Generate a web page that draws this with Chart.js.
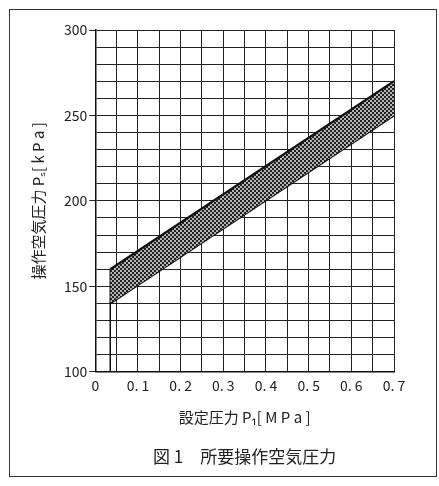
<!DOCTYPE html>
<html>
<head>
<meta charset="utf-8">
<script src="https://cdn.jsdelivr.net/npm/chart.js@4"></script>
<style>
  body { margin: 0; background: #fff; }
  #wrap { position: relative; width: 439px; height: 486px; }
  #frame { position: absolute; left: 9px; top: 9px; width: 426px; height: 466px; border: 1.5px solid #333; pointer-events: none; }
</style>
</head>
<body>
<div id="wrap">
  <canvas id="grafico" width="439" height="486"></canvas>
  <div id="frame"></div>
</div>
<script>
// 設定圧力 P1 [MPa] と 操作空気圧力 Ps [kPa]
const setPressure = [0.035, 0.7];
const psUpper = [160, 270];
const psLower = [140, 250];
const minSetX = [0.035, 0.035];
const minSetY = [160, 100];

const yTicks = [100, 150, 200, 250, 300];
const xTicks = [0, 0.1, 0.2, 0.3, 0.4, 0.5, 0.6, 0.7];
const xLabels = ['0', '0. 1', '0. 2', '0. 3', '0. 4', '0. 5', '0. 6', '0. 7'];

const fuente = "'Noto Sans CJK JP', 'Noto Sans', sans-serif";

// 網掛け（ドット）パターン
function crearTrama() {
  const c = document.createElement('canvas');
  c.width = 4; c.height = 4;
  const g = c.getContext('2d');
  g.fillStyle = '#b4b4b4';
  g.fillRect(0, 0, 4, 4);
  g.fillStyle = '#222';
  g.fillRect(0, 0, 2, 2);
  g.fillRect(2, 2, 2, 2);
  return g.createPattern(c, 'repeat');
}

function puntos(xs, ys) {
  return xs.map((x, i) => ({ x: x, y: ys[i] }));
}

function esMarcaY(v) {
  return yTicks.some(t => Math.abs(t - v) < 1e-6);
}

function etiquetaX(v) {
  const i = xTicks.findIndex(t => Math.abs(t - v) < 1e-6);
  return i >= 0 ? xLabels[i] : '';
}

const ctx = document.getElementById('grafico').getContext('2d');

new Chart(ctx, {
  type: 'scatter',
  data: {
    datasets: [
      {
        data: puntos(setPressure, psUpper),
        showLine: true,
        borderColor: '#111',
        borderWidth: 2.2,
        pointRadius: 0,
        backgroundColor: crearTrama(),
        fill: '+1'
      },
      {
        data: puntos(setPressure, psLower),
        showLine: true,
        borderColor: '#111',
        borderWidth: 2.2,
        pointRadius: 0,
        fill: false
      },
      {
        data: puntos(minSetX, minSetY),
        showLine: true,
        borderColor: '#111',
        borderWidth: 1.5,
        pointRadius: 0,
        fill: false
      }
    ]
  },
  options: {
    responsive: false,
    animation: false,
    layout: { padding: { left: 29, right: 45, top: 30, bottom: 19 } },
    plugins: {
      legend: { display: false },
      tooltip: { enabled: false },
      title: {
        display: true,
        position: 'bottom',
        fullSize: false,
        text: '図 1　所要操作空気圧力',
        color: '#222',
        font: { family: fuente, size: 17, weight: 'normal' },
        padding: { top: 20, bottom: 0 }
      }
    },
    scales: {
      x: {
        type: 'linear',
        min: 0,
        max: 0.7,
        border: { color: '#111', width: 1.5 },
        grid: { color: '#222', lineWidth: 1, drawTicks: false },
        ticks: {
          stepSize: 0.05,
          autoSkip: false,
          maxRotation: 0,
          padding: 5,
          color: '#222',
          font: { family: fuente, size: 14 },
          callback: v => etiquetaX(v)
        },
        title: {
          display: true,
          text: '設定圧力 P₁[ M P a ]',
          color: '#222',
          font: { family: fuente, size: 15 },
          padding: { top: 10, bottom: 0 }
        }
      },
      y: {
        min: 100,
        max: 300,
        border: { color: '#111', width: 1.5 },
        grid: {
          color: '#222',
          lineWidth: 1,
          tickLength: 6,
          tickColor: c => (c.tick && esMarcaY(c.tick.value)) ? '#222' : 'rgba(0,0,0,0)'
        },
        ticks: {
          stepSize: 10,
          autoSkip: false,
          padding: 2,
          color: '#222',
          font: { family: fuente, size: 14 },
          callback: v => esMarcaY(v) ? String(v) : ''
        },
        title: {
          display: true,
          text: '操作空気圧力 Pₛ[ k P a ]',
          color: '#222',
          font: { family: fuente, size: 15 },
          padding: { top: 0, bottom: 15 }
        }
      }
    }
  }
});
</script>
</body>
</html>
